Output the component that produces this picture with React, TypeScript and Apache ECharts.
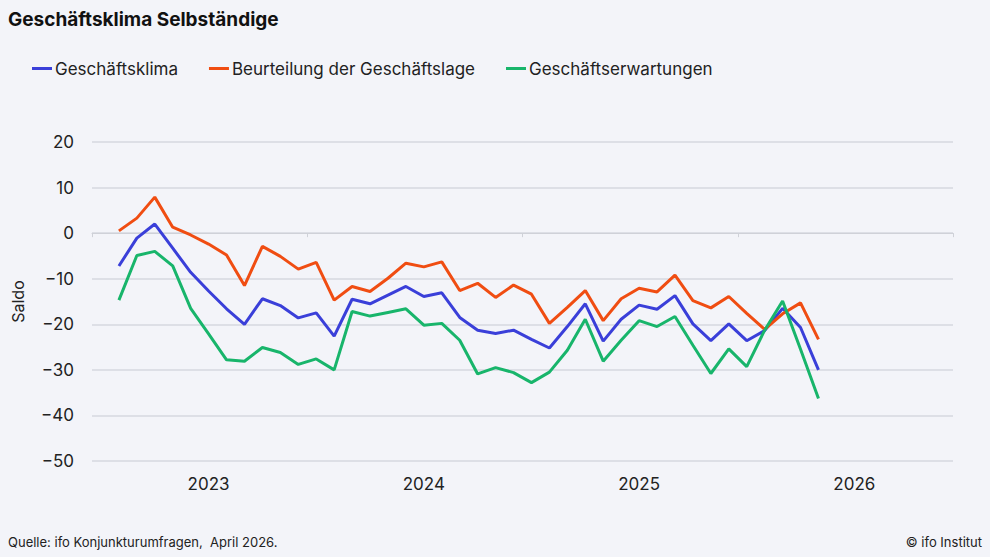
import React, { useEffect, useRef } from "react";
import * as echarts from "echarts";

const months: string[] = [
  "2023-02", "2023-03", "2023-04", "2023-05", "2023-06", "2023-07", "2023-08", "2023-09", "2023-10", "2023-11", "2023-12",
  "2024-01", "2024-02", "2024-03", "2024-04", "2024-05", "2024-06", "2024-07", "2024-08", "2024-09", "2024-10", "2024-11", "2024-12",
  "2025-01", "2025-02", "2025-03", "2025-04", "2025-05", "2025-06", "2025-07", "2025-08", "2025-09", "2025-10", "2025-11", "2025-12",
  "2026-01", "2026-02", "2026-03", "2026-04", "2026-05",
];

const geschaeftsklima: number[] = [
  -7.2, -1.1, 2.0, -3.3, -8.6, -12.7, -16.6, -20.0, -14.4, -15.9, -18.6,
  -17.5, -22.6, -14.5, -15.5, -13.6, -11.7, -13.9, -13.1, -18.5, -21.3, -22.0, -21.3,
  -23.3, -25.2, -20.5, -15.5, -23.7, -18.9, -15.8, -16.7, -13.7, -19.9, -23.6, -19.9,
  -23.6, -21.4, -16.5, -20.7, -30.0,
];

const geschaeftslage: number[] = [
  0.5, 3.3, 7.9, 1.3, -0.4, -2.4, -4.8, -11.5, -2.9, -5.1, -7.9,
  -6.4, -14.7, -11.7, -12.8, -9.9, -6.6, -7.4, -6.3, -12.6, -11.0, -14.1, -11.4,
  -13.4, -19.8, -16.3, -12.6, -19.2, -14.4, -12.1, -12.9, -9.2, -14.8, -16.4, -13.9,
  -17.6, -21.1, -17.7, -15.3, -23.3,
];

const geschaeftserwartungen: number[] = [
  -14.7, -4.9, -4.0, -7.2, -16.5, -22.1, -27.8, -28.1, -25.1, -26.2, -28.8,
  -27.6, -30.0, -17.2, -18.2, -17.4, -16.6, -20.2, -19.8, -23.5, -30.9, -29.5, -30.6,
  -32.8, -30.5, -25.7, -18.9, -28.1, -23.5, -19.2, -20.5, -18.3, -24.6, -30.8, -25.4,
  -29.3, -21.3, -14.9, -25.5, -36.3,
];

const years: number[] = [2023, 2024, 2025, 2026];
const yTicks = { min: -50, max: 20, interval: 10 };

const seriesNames = ["Geschäftsklima", "Beurteilung der Geschäftslage", "Geschäftserwartungen"];
const colors = ["#3a3fd9", "#f04d12", "#18b56b"];

const FONT = "Inter, 'Noto Sans', sans-serif";
const startYear = years[0];

function toX(m: string): number {
  const [y, mo] = m.split("-").map(Number);
  return (y - startYear) * 12 + (mo - 1) + 0.5;
}

export default function App() {
  const ref = useRef<HTMLDivElement>(null);

  useEffect(() => {
    if (!ref.current) return;
    const chart = echarts.init(ref.current, null, { renderer: "svg" });
    const xs = months.map(toX);
    const values = [geschaeftsklima, geschaeftslage, geschaeftserwartungen];
    const total = years.length * 12;

    chart.setOption({
      animation: false,
      backgroundColor: "#f3f4f9",
      textStyle: { fontFamily: FONT },
      title: {
        text: "Geschäftsklima Selbständige",
        left: 8,
        top: 10,
        padding: 0,
        textStyle: { fontFamily: FONT, fontSize: 19, fontWeight: "bold", color: "#111" },
      },
      legend: {
        left: 32,
        top: 60,
        padding: 0,
        itemWidth: 20,
        itemHeight: 3,
        itemGap: 31,
        icon: "rect",
        data: seriesNames,
        textStyle: { fontFamily: FONT, fontSize: 17, color: "#222", padding: [0, 0, 0, -2] },
      },
      grid: { left: 92, right: 37, top: 142, bottom: 96 },
      xAxis: [
        {
          type: "value",
          min: 0,
          max: total,
          interval: 12,
          axisLine: { show: true, lineStyle: { color: "#cfd1d8", width: 1 } },
          axisTick: { show: true, length: 4, lineStyle: { color: "#cfd1d8" } },
          axisLabel: { show: false },
          splitLine: { show: false },
        },
        {
          type: "value",
          position: "bottom",
          min: 0,
          max: total,
          interval: 0.5,
          axisLine: { show: false },
          axisTick: { show: false },
          splitLine: { show: false },
          axisLabel: {
            margin: 14,
            fontFamily: FONT,
            fontSize: 17,
            color: "#222",
            formatter: (v: number) => (v % 12 === 6.5 ? String(startYear + Math.floor(v / 12)) : ""),
          },
        },
      ],
      yAxis: {
        type: "value",
        min: yTicks.min,
        max: yTicks.max,
        interval: yTicks.interval,
        name: "Saldo",
        nameLocation: "middle",
        nameRotate: 90,
        nameGap: 66,
        nameTextStyle: { fontFamily: FONT, fontSize: 16, color: "#222" },
        axisLine: { show: false },
        axisTick: { show: false },
        axisLabel: {
          margin: 18,
          fontFamily: FONT,
          fontSize: 17,
          color: "#222",
          formatter: (v: number) => String(v).replace("-", "\u2212"),
        },
        splitLine: { lineStyle: { color: "#d6d8df", width: 1.5 } },
      },
      series: values.map((arr, k) => ({
        name: seriesNames[k],
        type: "line",
        xAxisIndex: 0,
        data: arr.map((v, i) => [xs[i], v]),
        showSymbol: false,
        symbol: "none",
        lineStyle: { color: colors[k], width: 3 },
        itemStyle: { color: colors[k] },
        z: 2 + k,
      })),
      graphic: [
        {
          type: "text",
          left: 8,
          top: 535,
          style: { text: "Quelle: ifo Konjunkturumfragen,  April 2026.", font: `13px ${FONT}`, fill: "#222" },
        },
        {
          type: "text",
          right: 8,
          top: 535,
          style: { text: "© ifo Institut", font: `13px ${FONT}`, fill: "#222" },
        },
      ],
    });

    return () => chart.dispose();
  }, []);

  return (
    <div
      ref={ref}
      style={{ position: "fixed", left: 0, top: 0, width: 990, height: 557 }}
    />
  );
}
